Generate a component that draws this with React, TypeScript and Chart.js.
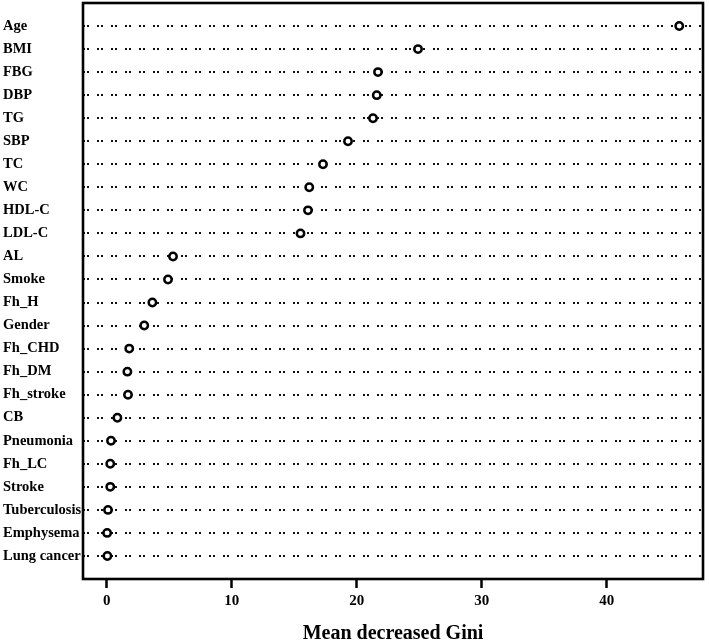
import React, { useEffect, useRef } from "react";
import { Chart, registerables } from "chart.js";

Chart.register(...registerables);

const variables = [
  "Age", "BMI", "FBG", "DBP", "TG", "SBP", "TC", "WC", "HDL-C", "LDL-C",
  "AL", "Smoke", "Fh_H", "Gender", "Fh_CHD", "Fh_DM", "Fh_stroke", "CB",
  "Pneumonia", "Fh_LC", "Stroke", "Tuberculosis", "Emphysema", "Lung cancer",
];
const meanDecreasedGini = [
  45.8, 24.9, 21.7, 21.6, 21.3, 19.3, 17.3, 16.2, 16.1, 15.5,
  5.3, 4.9, 3.65, 3.0, 1.8, 1.65, 1.7, 0.85,
  0.34, 0.28, 0.28, 0.1, 0.03, 0.05,
];
const xTickStep = 10;
const xAxisTitle = "Mean decreased Gini";

const FONT = "'Liberation Serif', 'Times New Roman', serif";

const boxPlugin = {
  id: "boxPlugin",
  afterDraw(chart: any) {
    const { ctx, chartArea } = chart;
    ctx.save();
    ctx.strokeStyle = "#000";
    ctx.lineWidth = 2.6;
    ctx.setLineDash([]);
    ctx.strokeRect(chartArea.left, chartArea.top, chartArea.right - chartArea.left, chartArea.bottom - chartArea.top);
    ctx.restore();
  },
};

export default function App() {
  const canvasRef = useRef<HTMLCanvasElement | null>(null);

  useEffect(() => {
    const n = variables.length;
    const points = meanDecreasedGini.map((v, i) => ({ x: v, y: n - i }));
    const chart = new Chart(canvasRef.current as HTMLCanvasElement, {
      type: "scatter",
      data: {
        datasets: [
          {
            data: points,
            pointStyle: "circle",
            pointRadius: 3.7,
            pointBorderWidth: 2.5,
            borderColor: "#000",
            backgroundColor: "#fff",
            pointBackgroundColor: "#fff",
            pointBorderColor: "#000",
          },
        ],
      },
      options: {
        animation: false,
        responsive: false,
        layout: { autoPadding: false, padding: { left: 3, top: 3, right: 6, bottom: 0 } },
        plugins: { legend: { display: false }, tooltip: { enabled: false } },
        scales: {
          x: {
            type: "linear",
            min: -1.9,
            max: 47.7,
            ticks: {
              stepSize: xTickStep,
              includeBounds: false,
              color: "#000",
              padding: 4,
              font: { family: FONT, size: 15, weight: "bold" },
            },
            grid: {
              drawOnChartArea: false,
              drawTicks: true,
              tickLength: 9,
              tickWidth: 2.5,
              tickColor: "#000",
            },
            border: { display: false },
            title: {
              display: true,
              text: xAxisTitle,
              color: "#000",
              font: { family: FONT, size: 20, weight: "bold", lineHeight: 1 },
              padding: { top: 10, bottom: 0 },
            },
          },
          y: {
            type: "linear",
            min: 0,
            max: n + 1,
            afterFit: (scale: any) => {
              scale.width = 80;
            },
            ticks: {
              stepSize: 1,
              autoSkip: false,
              crossAlign: "far",
              padding: 0,
              color: "#000",
              font: { family: FONT, size: 14.5, weight: "bold", lineHeight: 0.2 },
              callback: (v: any) => {
                const k = Number(v);
                return k >= 1 && k <= n ? variables[n - k] : "";
              },
            },
            grid: {
              drawTicks: false,
              lineWidth: 2,
              color: (ctx: any) =>
                ctx.tick && ctx.tick.value >= 1 && ctx.tick.value <= n ? "#111" : "rgba(0,0,0,0)",
            },
            border: { display: false, dash: [2, 2, 2, 8] },
          },
        },
      },
      plugins: [boxPlugin],
    } as any);
    return () => chart.destroy();
  }, []);

  return (
    <div style={{ position: "fixed", left: 0, top: 0, width: 709, height: 644, background: "#fff" }}>
      <canvas ref={canvasRef} width={709} height={644} style={{ display: "block" }} />
    </div>
  );
}
